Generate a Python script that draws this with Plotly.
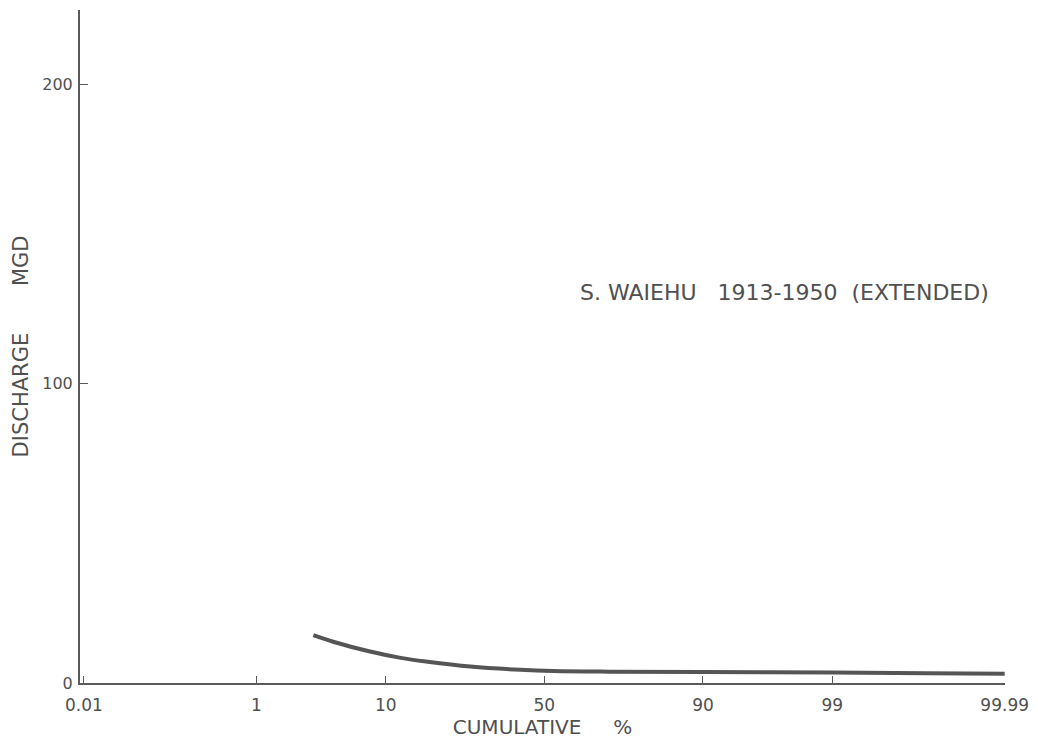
from statistics import NormalDist
import plotly.graph_objects as go

# Flow-duration curve on a normal-probability axis
cum_pct = [3.1, 4.4, 7.7, 12.3, 17.3, 27.5, 42.3, 52.9, 70, 90, 99, 99.9, 99.99]
discharge_mgd = [16.0, 13.8, 10.7, 8.4, 7.1, 5.5, 4.4, 4.0, 3.8, 3.7, 3.5, 3.3, 3.1]

tick_pct = [0.01, 1, 10, 50, 90, 99, 99.99]
tick_text = ["0.01", "1", "10", "50", "90", "99", "99.99"]

y_ticks = [0, 100, 200]

nd = NormalDist()


def prob_pos(p):
    return nd.inv_cdf(p / 100.0)


x_vals = [prob_pos(p) for p in cum_pct]
tick_vals = [prob_pos(p) for p in tick_pct]

ink = "#505050"
axis_ink = "#5a5a5a"
font_family = "DejaVu Sans, Liberation Sans, sans-serif"

fig = go.Figure()
fig.add_trace(go.Scatter(
    x=x_vals, y=discharge_mgd, mode="lines",
    line=dict(color="#555555", width=4, shape="spline", smoothing=1.0),
    showlegend=False, hoverinfo="skip",
))

fig.add_annotation(
    x=prob_pos(97.4), y=130.5, xref="x", yref="y",
    text="S. WAIEHU&nbsp;&nbsp;&nbsp;1913-1950&nbsp;&nbsp;(EXTENDED)",
    showarrow=False, font=dict(size=22, color=ink, family=font_family),
)

fig.update_layout(
    width=1038, height=746,
    margin=dict(l=80, r=33, t=10, b=63),
    paper_bgcolor="white", plot_bgcolor="white",
    font=dict(family=font_family, color=ink),
    xaxis=dict(
        range=[prob_pos(0.0088), prob_pos(99.9901)],
        tickmode="array", tickvals=tick_vals, ticktext=tick_text,
        ticks="inside", ticklen=7, tickcolor=axis_ink, tickwidth=1,
        showline=True, linecolor=axis_ink, linewidth=2,
        showgrid=False, zeroline=False,
        tickfont=dict(size=17, color=ink),
        ticklabelstandoff=6,
        title=dict(text="CUMULATIVE&nbsp;&nbsp;&nbsp;&nbsp;&nbsp;%", font=dict(size=20, color=ink), standoff=4),
    ),
    yaxis=dict(
        range=[0, 225],
        tickmode="array", tickvals=y_ticks, ticktext=[str(v) for v in y_ticks],
        ticks="inside", ticklen=8, tickcolor=axis_ink, tickwidth=1,
        showline=True, linecolor=axis_ink, linewidth=2,
        showgrid=False, zeroline=False,
        tickfont=dict(size=16, color=ink),
        ticklabelstandoff=2,
        title=dict(text="DISCHARGE&nbsp;&nbsp;&nbsp;&nbsp;&nbsp;&nbsp;&nbsp;MGD", font=dict(size=21, color=ink), standoff=8),
    ),
)

fig.write_html("out.html")
